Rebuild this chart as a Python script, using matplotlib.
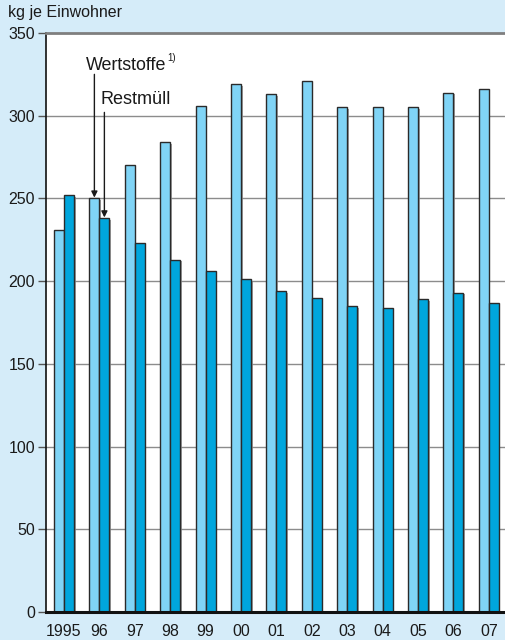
import matplotlib
matplotlib.use("Agg")
import matplotlib.pyplot as plt
import matplotlib.patheffects as pe
import numpy as np

plt.rcParams['font.family'] = ['Liberation Sans', 'DejaVu Sans']

years = ["1995", "96", "97", "98", "99", "00", "01", "02", "03", "04", "05", "06", "07"]
wertstoffe = [231, 250, 270, 284, 306, 319, 313, 321, 305, 305, 305, 314, 316]
restmuell = [252, 238, 223, 213, 206, 201, 194, 190, 185, 184, 189, 193, 187]
yticks = [0, 50, 100, 150, 200, 250, 300, 350]

bg = "#d5ecf9"
light = "#80d4f6"
dark = "#00a6dd"
edge = "#2a2a2a"

W, H = 505, 640
fig = plt.figure(figsize=(W / 100, H / 100), dpi=100, facecolor=bg)
ax = fig.add_axes([46 / W, 28 / H, (W - 46) / W, (612 - 33) / H])
ax.set_facecolor("white")

x = np.arange(len(years))
bw = 0.2825
shadow = [pe.SimplePatchShadow(offset=(1.2, -1.2), shadow_rgbFace="#8a8a8a", alpha=0.8), pe.Normal()]
ax.bar(x - bw / 2, wertstoffe, width=bw, color=light, edgecolor=edge, linewidth=1.0,
       zorder=3, path_effects=shadow)
ax.bar(x + bw / 2, restmuell, width=bw, color=dark, edgecolor=edge, linewidth=1.0,
       zorder=3, path_effects=shadow)

ax.set_ylim(0, 350)
ax.set_xlim(-0.508, 12.458)
ax.set_yticks(yticks)
ax.set_yticklabels([str(v) for v in yticks], fontsize=11.5, color="#1a1a1a")
ax.set_xticks(x)
ax.set_xticklabels(years, fontsize=11.5, color="#1a1a1a")
ax.tick_params(axis="x", length=0, pad=8.5)
ax.tick_params(axis="y", length=6, width=1.0, color="#555555", pad=2)

for v in yticks[1:-1]:
    ax.axhline(v, color="#8c8c8c", linewidth=1.0, zorder=1)

ax.spines["right"].set_visible(False)
ax.spines["top"].set_color("#7f7f7f")
ax.spines["top"].set_linewidth(2.0)
ax.spines["left"].set_color("#111111")
ax.spines["left"].set_linewidth(1.2)
ax.spines["bottom"].set_color("#111111")
ax.spines["bottom"].set_linewidth(2.2)
ax.spines["bottom"].set_zorder(5)

fig.text(8 / W, 1 - 13 / H, "kg je Einwohner", fontsize=11.5, color="#1a1a1a",
         ha="left", va="center")

# Labels with arrows pointing to the 1996 bars
arrow = dict(arrowstyle="-|>", color="#1a1a1a", lw=1.0, mutation_scale=9,
             shrinkA=0, shrinkB=0)
ax.annotate("", xy=(1 - bw / 2, wertstoffe[1] + 0.5), xytext=(1 - bw / 2, 325),
            arrowprops=arrow, zorder=6)
ax.annotate("", xy=(1 + bw / 2, restmuell[1] + 0.5), xytext=(1 + bw / 2, 302),
            arrowprops=arrow, zorder=6)
ax.text(0.62, 330.5, "Wertstoffe", fontsize=12.9, color="#1a1a1a", ha="left", va="center")
ax.text(2.92, 335, "1)", fontsize=7, color="#1a1a1a", ha="left", va="center")
ax.text(1.02, 309.5, "Restmüll", fontsize=13, color="#1a1a1a", ha="left", va="center")

fig.savefig("out.png", dpi=100, facecolor=bg)
